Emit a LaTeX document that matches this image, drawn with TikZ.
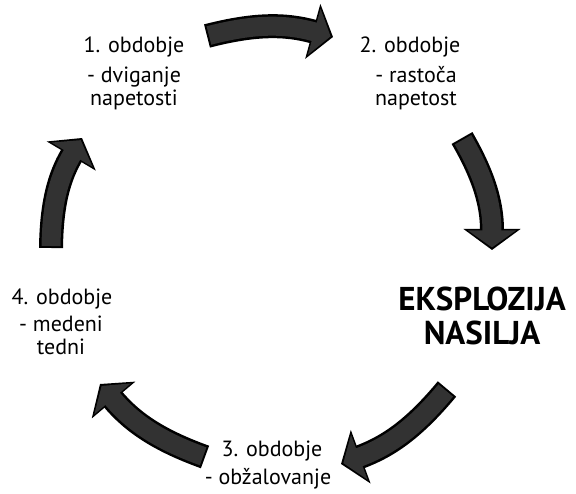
\documentclass[tikz,border=0pt]{standalone}
\usepackage{fontspec}
\setmainfont{PT Sans}
\usetikzlibrary{arrows.meta, positioning}
\definecolor{arrowgray}{RGB}{50, 50, 50}

\begin{document}
\begin{tikzpicture}[x=1pt, y=1pt,
      phase/.style={font=\fontsize{22}{27}\selectfont, anchor=base, inner sep=0pt},
      desc/.style={font=\fontsize{22}{23}\selectfont, align=center,
                   anchor=base, inner sep=0pt},
      burst/.style={font=\fontsize{33}{34}\selectfont\bfseries, align=center,
                    anchor=base, inner sep=0pt},
      cycout/.style={line width=24pt, black,
                     -{Triangle[width=56pt, length=21pt]}},
      cycin/.style={line width=19pt, arrowgray, shorten <=2pt, shorten >=2.5pt,
                    -{Triangle[width=47pt, length=17pt]}}
    ]
    \useasboundingbox (0,0) rectangle (576,494);

    % phases (base of the last line)
    \node[phase] (p1) at (134,441) {1. obdobje};
    \node[desc]  (d1) at (134,388) {- dviganje\\napetosti};
    \node[phase] (p2) at (410,441) {2. obdobje};
    \node[desc]  (d2) at (416,388) {- rastoča\\napetost};
    \node[burst] (burst) at (482,149) {EKSPLOZIJA\\NASILJA};
    \node[phase] (p3) at (272,37) {3. obdobje};
    \node[desc]  (d3) at (268,9) {- obžalovanje};
    \node[phase] (p4) at (62,189) {4. obdobje};
    \node[desc]  (d4) at (61,139) {- medeni\\tedni};

    % arrow ends
    \coordinate (t1) at (207,458); \coordinate (h1) at (333,457);
    \coordinate (t2) at (462,356); \coordinate (h2) at (492,244);
    \coordinate (t3) at (447,105); \coordinate (h3) at (341,30);
    \coordinate (t4) at (205,37);  \coordinate (h4) at (100,110);
    \coordinate (t5) at (51,246);  \coordinate (h5) at (82,356);

    \foreach \from/\to in {t1/h1, t2/h2, t3/h3, t4/h4, t5/h5} {
      \draw[cycout] (\from) to[bend left=15] (\to);
      \draw[cycin]  (\from) to[bend left=15] (\to);
    }
  \end{tikzpicture}
\end{document}
